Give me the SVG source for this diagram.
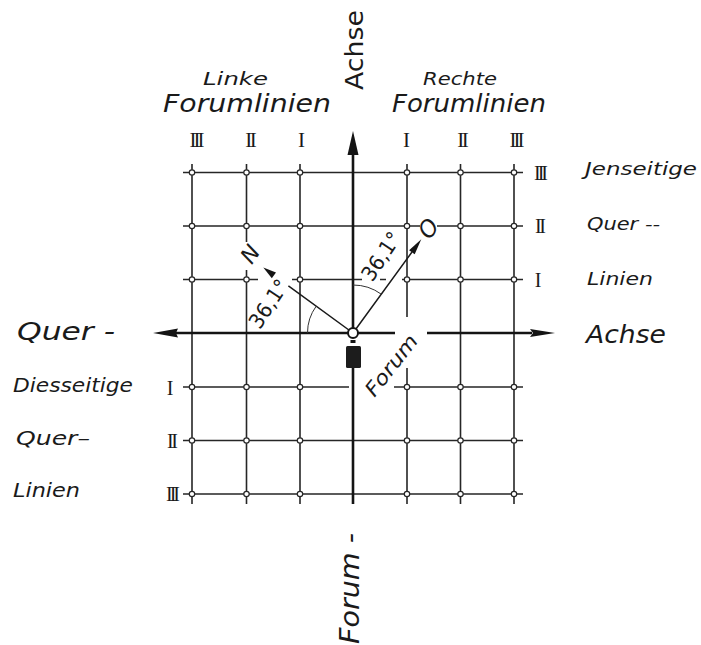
<svg xmlns="http://www.w3.org/2000/svg" width="701" height="645" viewBox="0 0 701 645">
<style>
.bg{fill:#ffffff}
.gl{fill:none;stroke:#262626;stroke-width:1.6;stroke-linecap:butt}
.ax{fill:none;stroke:#141414;stroke-width:2.6}
.vec{fill:none;stroke:#1a1a1a;stroke-width:1.5}
.arc{fill:none;stroke:#333;stroke-width:1}
.hd{fill:#141414;stroke:none}
.nd{fill:#ffffff;stroke:#262626;stroke-width:1.2}
.t{font-family:"DejaVu Sans","Liberation Sans",sans-serif;fill:#1a1a1a}
.i{font-style:italic}
.rn{font-family:"Liberation Serif","Times New Roman",serif;fill:#1a1a1a;text-anchor:middle}
.r2{letter-spacing:-2.5px}
.r3{letter-spacing:-3px}
</style>
<defs>
<circle id="node" r="2.7" class="nd"/>
</defs>
<rect class="bg" x="0" y="0" width="701" height="645"/>

<g id="grid">
<path class="gl" d="M183,172.5H523 M183,226H420 M437,226H523 M183,279.5H258 M292,279.5H362 M380,279.5H386 M402,279.5H523 M183,387H349 M394,387H523 M183,440.5H523 M183,494H523"/>
<path class="gl" d="M192,164V504 M246.5,164V242 M246.5,270V504 M300,164V504 M407,164V317 M407,368V504 M460.5,164V504 M514,164V504"/>
</g>

<g id="connectors">
<path class="ax" d="M353,153V328 M353,368V504 M176,333H348 M358,333H395 M427,333H532"/>
<polygon class="hd" points="353,131 347.5,155 358.5,155"/>
<polygon class="hd" points="153,333 178,328.5 176,333 178,337.5"/>
<polygon class="hd" points="555,333 530,329 533,333 530,337"/>
<path class="vec" d="M353,333L288.4,285.9 M353,333L412,252"/>
<polygon class="hd" points="263.3,267.6 276,272.6 271.8,278.3"/>
<polygon class="hd" points="421.3,239.3 414.7,254.2 409.1,250.2"/>
<path class="arc" d="M353,285A48,48 0 0 1 381.3,294.2"/>
<path class="arc" d="M307.5,333A45.5,45.5 0 0 1 316.2,306.2"/>
</g>

<g id="nodes">
<use href="#node" x="192" y="172.5"/><use href="#node" x="246.5" y="172.5"/><use href="#node" x="300" y="172.5"/><use href="#node" x="407" y="172.5"/><use href="#node" x="460.5" y="172.5"/><use href="#node" x="514" y="172.5"/>
<use href="#node" x="192" y="226"/><use href="#node" x="246.5" y="226"/><use href="#node" x="300" y="226"/><use href="#node" x="407" y="226"/><use href="#node" x="460.5" y="226"/><use href="#node" x="514" y="226"/>
<use href="#node" x="192" y="279.5"/><use href="#node" x="246.5" y="279.5"/><use href="#node" x="300" y="279.5"/><use href="#node" x="407" y="279.5"/><use href="#node" x="460.5" y="279.5"/><use href="#node" x="514" y="279.5"/>
<use href="#node" x="192" y="387"/><use href="#node" x="246.5" y="387"/><use href="#node" x="300" y="387"/><use href="#node" x="407" y="387"/><use href="#node" x="460.5" y="387"/><use href="#node" x="514" y="387"/>
<use href="#node" x="192" y="440.5"/><use href="#node" x="246.5" y="440.5"/><use href="#node" x="300" y="440.5"/><use href="#node" x="407" y="440.5"/><use href="#node" x="460.5" y="440.5"/><use href="#node" x="514" y="440.5"/>
<use href="#node" x="192" y="494"/><use href="#node" x="246.5" y="494"/><use href="#node" x="300" y="494"/><use href="#node" x="407" y="494"/><use href="#node" x="460.5" y="494"/><use href="#node" x="514" y="494"/>
</g>

<g id="forum">
<circle cx="353" cy="333" r="5" fill="#ffffff" stroke="#141414" stroke-width="2"/>
<rect x="350.5" y="340" width="5" height="3" fill="#141414"/>
<rect x="346" y="346" width="15" height="22" rx="1.5" fill="#1c1c1c"/>
<text class="t i" font-size="20" text-anchor="middle" textLength="72" lengthAdjust="spacingAndGlyphs" transform="translate(396.7,369.7) rotate(-52)">Forum</text>
</g>

<g id="directions">
<text class="t i" font-size="22" text-anchor="middle" transform="translate(256.5,258.6) rotate(-55)">N</text>
<text class="t i" font-size="23" text-anchor="middle" transform="translate(435,233) rotate(-55)">O</text>
<text class="t" font-size="21" text-anchor="middle" textLength="54" lengthAdjust="spacingAndGlyphs" transform="translate(274.8,307.8) rotate(-56)">36,1°</text>
<text class="t" font-size="21" text-anchor="middle" textLength="54" lengthAdjust="spacingAndGlyphs" transform="translate(387.3,260.3) rotate(-56)">36,1°</text>
</g>

<g id="top-labels">
<text class="t" font-size="24" textLength="80" lengthAdjust="spacingAndGlyphs" transform="translate(363,90) rotate(-90)">Achse</text>
<text class="t i" font-size="18" x="203" y="85" textLength="65" lengthAdjust="spacingAndGlyphs">Linke</text>
<text class="t i" font-size="24" x="163" y="112" textLength="168" lengthAdjust="spacingAndGlyphs">Forumlinien</text>
<text class="t i" font-size="18" x="423" y="85" textLength="74" lengthAdjust="spacingAndGlyphs">Rechte</text>
<text class="t i" font-size="24" x="392" y="112" textLength="154" lengthAdjust="spacingAndGlyphs">Forumlinien</text>
</g>

<g id="numerals">
<text class="rn r3" font-size="21" x="195.5" y="147">III</text>
<text class="rn r2" font-size="21" x="249.7" y="147">II</text>
<text class="rn" font-size="21" x="301.5" y="147">I</text>
<text class="rn" font-size="21" x="406.5" y="147">I</text>
<text class="rn r2" font-size="21" x="461.7" y="147">II</text>
<text class="rn r3" font-size="21" x="515.5" y="147">III</text>
<text class="rn r3" font-size="20" x="539.5" y="180">III</text>
<text class="rn r2" font-size="20" x="539.2" y="233">II</text>
<text class="rn" font-size="20" x="538" y="287">I</text>
<text class="rn" font-size="20" x="170" y="395">I</text>
<text class="rn r2" font-size="20" x="171.2" y="448">II</text>
<text class="rn r3" font-size="20" x="171.5" y="501">III</text>
</g>

<g id="right-labels">
<text class="t i" font-size="18" x="585" y="175" textLength="112" lengthAdjust="spacingAndGlyphs">Jenseitige</text>
<text class="t i" font-size="17" x="587" y="230" textLength="73" lengthAdjust="spacingAndGlyphs">Quer --</text>
<text class="t i" font-size="18" x="587" y="285" textLength="66" lengthAdjust="spacingAndGlyphs">Linien</text>
<text class="t i" font-size="24" x="586" y="343" textLength="80" lengthAdjust="spacingAndGlyphs">Achse</text>
</g>

<g id="left-labels">
<text class="t i" font-size="24" x="17" y="340" textLength="98" lengthAdjust="spacingAndGlyphs">Quer -</text>
<text class="t i" font-size="19" x="13" y="392" textLength="120" lengthAdjust="spacingAndGlyphs">Diesseitige</text>
<text class="t i" font-size="19" x="16" y="445" textLength="74" lengthAdjust="spacingAndGlyphs">Quer–</text>
<text class="t i" font-size="19" x="13" y="497" textLength="67" lengthAdjust="spacingAndGlyphs">Linien</text>
</g>

<g id="bottom-label">
<text class="t i" font-size="27" textLength="111" lengthAdjust="spacingAndGlyphs" transform="translate(359,644) rotate(-90)">Forum -</text>
</g>
</svg>
